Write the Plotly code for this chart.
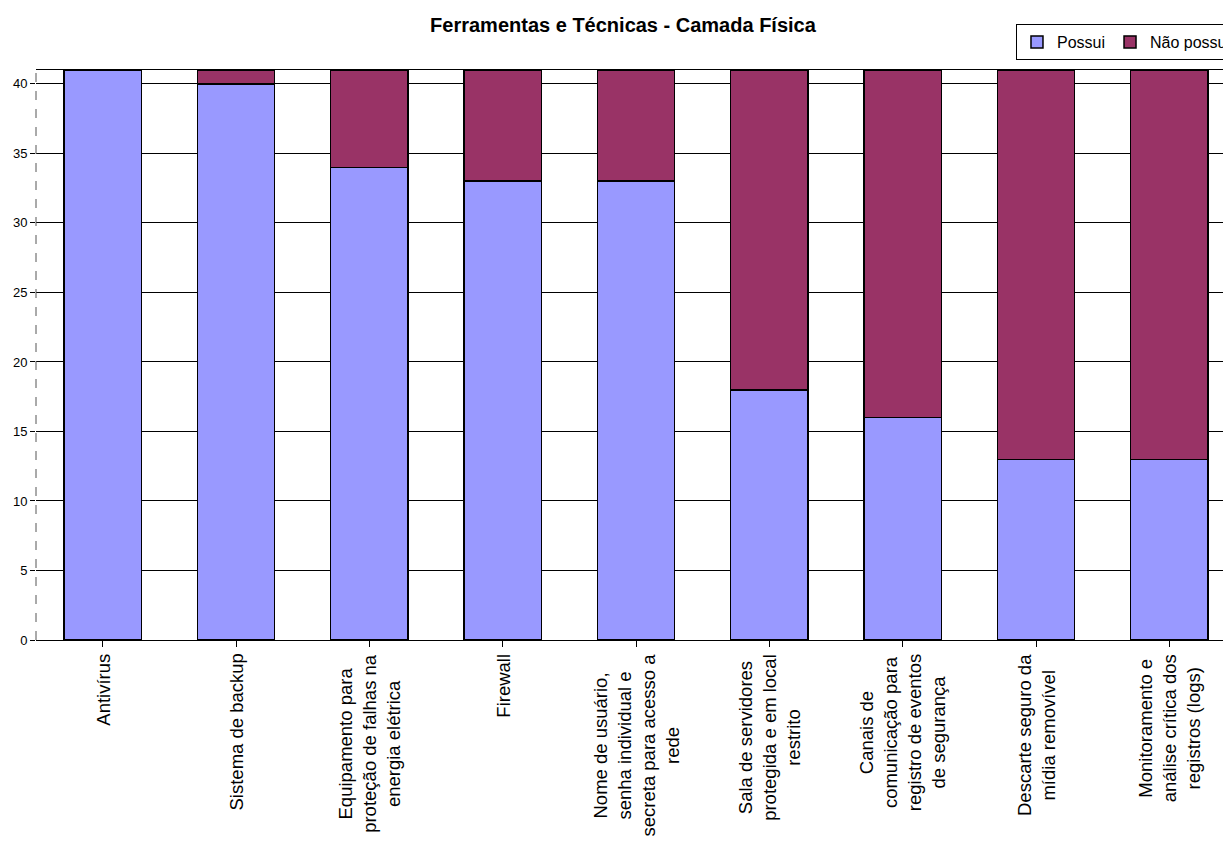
import plotly.graph_objects as go

categories = [
    "Antivírus",
    "Sistema de backup",
    "Equipamento para<br>proteção de falhas na<br>energia elétrica",
    "Firewall",
    "Nome de usuário,<br>senha individual e<br>secreta para acesso a<br>rede",
    "Sala de servidores<br>protegida e em local<br>restrito",
    "Canais de<br>comunicação para<br>registro de eventos<br>de segurança",
    "Descarte seguro da<br>mídia removível",
    "Monitoramento e<br>análise crítica dos<br>registros (logs)",
]
possui = [41, 40, 34, 33, 33, 18, 16, 13, 13]
nao_possui = [0, 1, 7, 8, 8, 23, 25, 28, 28]
y_ticks = [0, 5, 10, 15, 20, 25, 30, 35, 40]

FONT = "Arial, Liberation Sans, sans-serif"
x_idx = list(range(len(categories)))

fig = go.Figure()
fig.add_trace(go.Bar(x=x_idx, y=possui, name="Possui",
                     marker=dict(color="#9999FF", line=dict(color="black", width=1.5))))
fig.add_trace(go.Bar(x=x_idx, y=nao_possui, name="Não possui",
                     marker=dict(color="#993366", line=dict(color="black", width=1.5))))

annotations = []
for i, lab in enumerate(categories):
    annotations.append(dict(
        x=i, y=0, xref="x", yref="paper", text=lab, showarrow=False,
        textangle=-90, xanchor="center", yanchor="top", align="center",
        yshift=-12, font=dict(family=FONT, size=18.5, color="black")))

fig.update_layout(
    width=1223, height=843,
    margin=dict(l=36, r=0, t=70, b=203, autoexpand=False),
    barmode="stack", bargap=0.42,
    plot_bgcolor="white", paper_bgcolor="white",
    font=dict(family=FONT, color="black"),
    title=dict(text="<b>Ferramentas e Técnicas - Camada Física</b>",
               x=0.4945, xref="paper", xanchor="center",
               y=1 - 25 / 843, yref="container", yanchor="middle",
               font=dict(family=FONT, size=20, color="black")),
    legend=dict(orientation="h", traceorder="normal", x=0.8256, y=1.0807,
                xanchor="left", yanchor="top",
                bgcolor="white", bordercolor="black", borderwidth=1,
                font=dict(family=FONT, size=16, color="black")),
    xaxis=dict(range=[-0.5, 8.4025], tickmode="array", tickvals=x_idx,
               showticklabels=False, tickson="boundaries", ticks="outside",
               ticklen=6, tickcolor="black", showline=True, linecolor="black",
               linewidth=1, mirror=True, showgrid=False, zeroline=False),
    yaxis=dict(range=[0, 41], tickmode="array", tickvals=y_ticks,
               ticks="outside", ticklen=5, tickcolor="black",
               tickfont=dict(family=FONT, size=13, color="black"),
               showgrid=True, gridcolor="black", gridwidth=1,
               zeroline=False, showline=False),
    annotations=annotations,
    shapes=[dict(type="line", xref="paper", yref="paper", x0=0, x1=0, y0=0, y1=1,
                 line=dict(color="#555555", width=1, dash="dash"))],
)

fig.write_html("out.html")
